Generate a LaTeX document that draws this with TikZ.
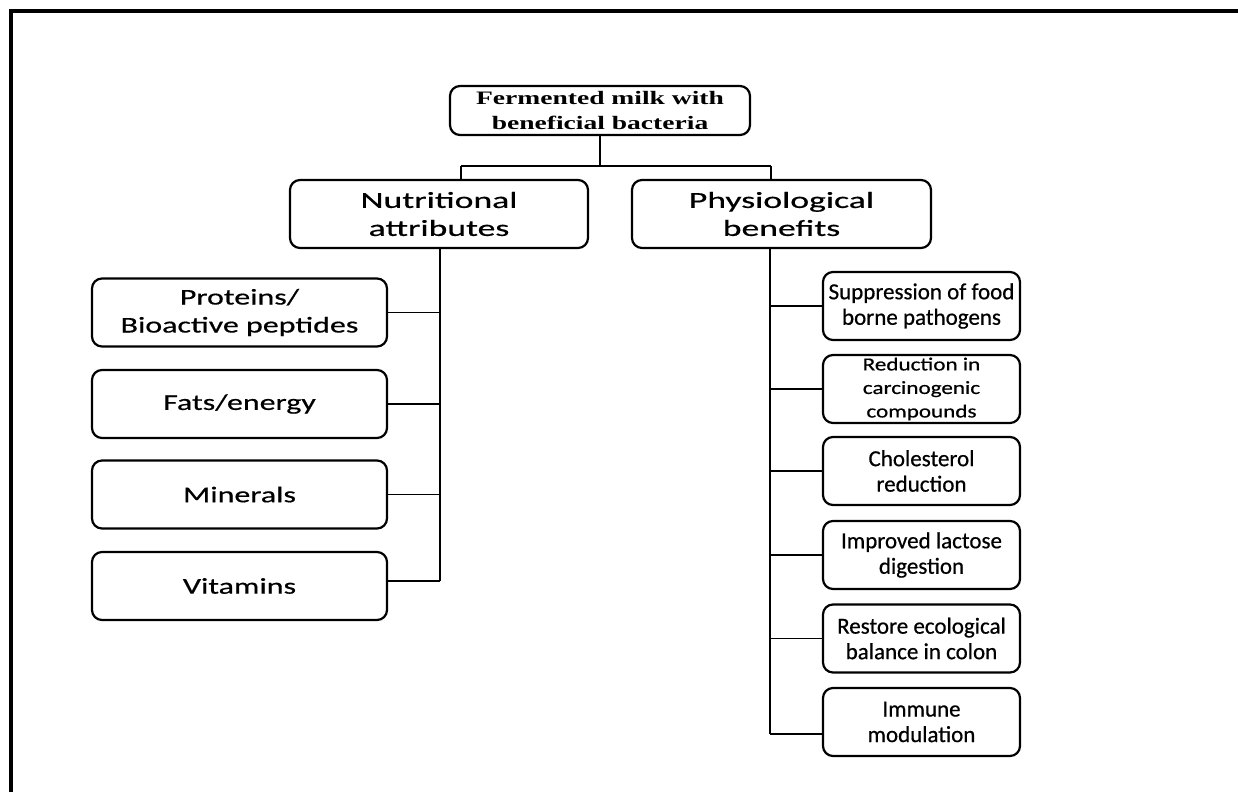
\documentclass[tikz,border=0pt]{standalone}
\usepackage{fontspec}
\setmainfont[FakeBold=0.6]{Carlito}
\newfontfamily\widefont[FakeStretch=1.42,FakeBold=0.6]{Carlito}
\newfontfamily\headfont[FakeStretch=1.55,FakeBold=0.6]{Carlito}
\newfontfamily\smallfont[FakeStretch=1.25,FakeBold=0.6]{Carlito}
\newfontfamily\titlefont[FakeStretch=1.45]{Liberation Serif}

\begin{document}
\begin{tikzpicture}[x=1pt,y=-1pt]

\tikzstyle{box}=[draw=black, line width=2.2pt, rounded corners=10pt, align=center, inner sep=0pt, minimum height=68pt]
\tikzstyle{leftbox}=[box, minimum width=295pt, font=\widefont\fontsize{22.5}{28}\selectfont]
\tikzstyle{rightbox}=[box, minimum width=197pt, font=\fontsize{23}{25.5}\selectfont]
\tikzstyle{link}=[line width=1.3pt]

\useasboundingbox (0,0) rectangle (1238,792);
\draw[line width=4pt] (11,792) -- (11,11) -- (1238,11);

% top and second level
\node[box, minimum width=300pt, minimum height=49pt, font=\titlefont\bfseries\fontsize{19}{24.5}\selectfont] (milk) at (600,110.5) {Fermented milk with\\beneficial bacteria};
\node[box, minimum width=298pt, font=\headfont\fontsize{23}{28}\selectfont] (nutri) at (439,214) {Nutritional\\attributes};
\node[box, minimum width=299pt, font=\headfont\fontsize{23}{28}\selectfont] (physio) at (781.5,214) {Physiological\\benefits};

% nutritional attributes
\node[leftbox] (proteins) at (239.5,312.5) {Proteins/\\Bioactive peptides};
\node[leftbox] (fats) at (239.5,404) {Fats/energy};
\node[leftbox] (minerals) at (239.5,494.5) {Minerals};
\node[leftbox] (vitamins) at (239.5,586) {Vitamins};

% physiological benefits
\node[rightbox] (suppress) at (921.5,306) {Suppression of food\\borne pathogens};
\node[rightbox, font=\smallfont\fontsize{18.5}{23.5}\selectfont] (carcino) at (921.5,389) {Reduction in\\carcinogenic\\compounds};
\node[rightbox] (cholest) at (921.5,471) {Cholesterol\\reduction};
\node[rightbox] (lactose) at (921.5,555) {Improved lactose\\digestion};
\node[rightbox] (colon) at (921.5,638.5) {Restore ecological\\balance in colon};
\node[rightbox] (immune) at (921.5,722) {Immune\\modulation};

\draw[link] (milk) -- ++(0,55.5) coordinate (split);
\draw[link] ([xshift=-139pt]split) -- ++(310pt,0);
\draw[link] ([xshift=-139pt]split) -- ([xshift=22pt]nutri.north);
\draw[link] ([xshift=171pt]split) -- ([xshift=-10.5pt]physio.north);

\draw[link] ([xshift=1pt]nutri.south) -- ++(0,332) coordinate (nutriend);
\draw[link] (proteins.east) -- (proteins.east -| nutriend);
\draw[link] (fats.east) -- (fats.east -| nutriend);
\draw[link] (minerals.east) -- (minerals.east -| nutriend);
\draw[link] (vitamins.east |- nutriend) -- (nutriend);

\draw[link] ([xshift=-11.5pt]physio.south) -- ++(0,485) coordinate (physioend);
\draw[link] (suppress.west) -- (suppress.west -| physioend);
\draw[link] (carcino.west) -- (carcino.west -| physioend);
\draw[link] (cholest.west) -- (cholest.west -| physioend);
\draw[link] (lactose.west) -- (lactose.west -| physioend);
\draw[link] (colon.west) -- (colon.west -| physioend);
\draw[link] (immune.west |- physioend) -- (physioend);
\end{tikzpicture}
\end{document}
